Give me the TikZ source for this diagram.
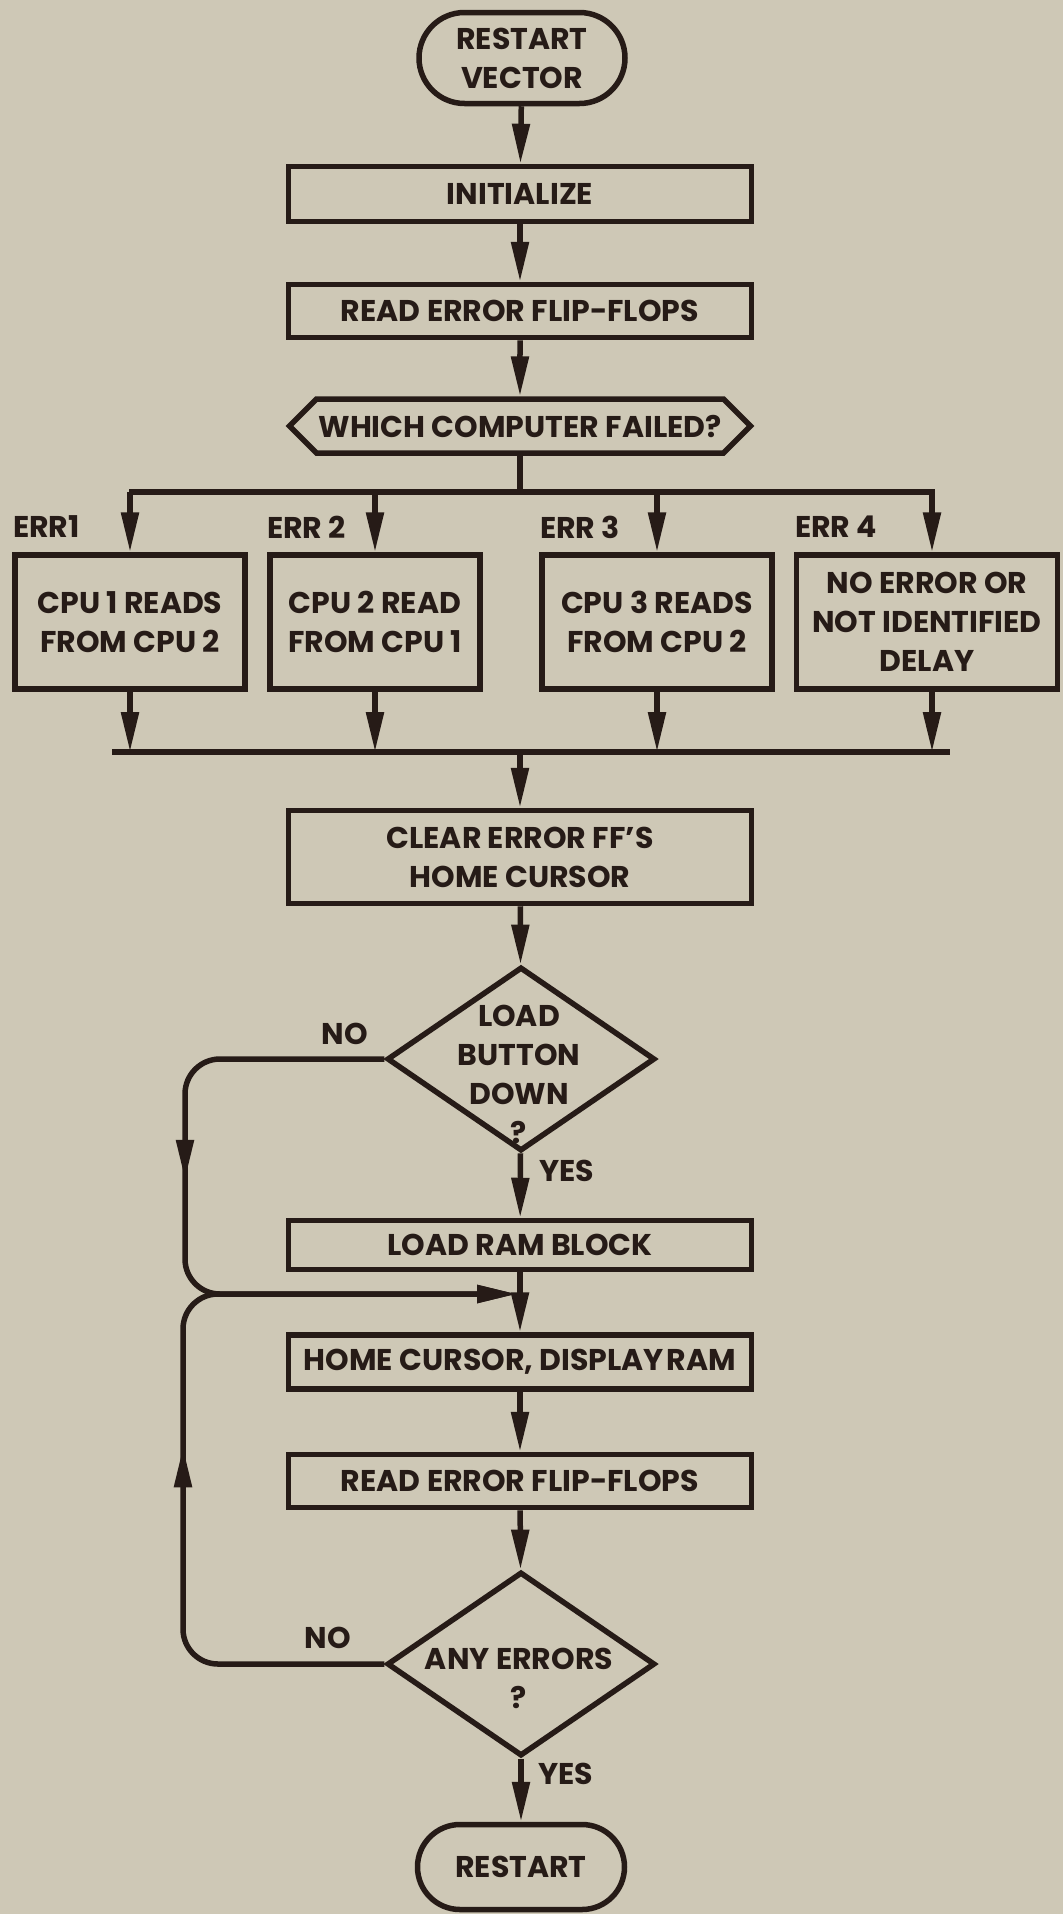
\documentclass[tikz,border=0pt]{standalone}
\usepackage{fontspec}
\setmainfont{Poppins}
\usetikzlibrary{arrows.meta,shapes.misc,shapes.geometric,shapes.symbols,decorations.markings}
\definecolor{bg}{RGB}{206,200,182}
\definecolor{ink}{RGB}{38,27,23}
\begin{document}
\begin{tikzpicture}[x=1pt,y=-1pt,
  every node/.style={font=\fontsize{30}{39}\selectfont\bfseries, text=ink},
  box/.style={draw=ink, line width=5.5pt, rectangle, minimum width=463pt, align=center, inner sep=0pt},
  term/.style={draw=ink, line width=5.5pt, rounded rectangle, align=center, inner sep=0pt},
  dia/.style={draw=ink, line width=5.5pt, diamond, minimum width=268pt, minimum height=184pt, inner sep=0pt},
  lbl/.style={inner sep=0pt, align=center},
  tipA/.tip={Triangle[length=40pt,width=17pt]},
  arr/.style={draw=ink, color=ink, line width=5.5pt, -tipA},
  ln/.style={draw=ink, color=ink, line width=5.5pt},
]
\fill[bg] (0,0) rectangle (1063,1914);
\useasboundingbox (0,0) rectangle (1063,1914);

% main column
\node[term, minimum width=206pt, minimum height=91pt] (start) at (522,58) {RESTART\\VECTOR};
\node[box, minimum height=55pt] (init) at (520,194) {INITIALIZE};
\node[box, minimum height=53pt] (rff1) at (520,311) {READ ERROR FLIP-FLOPS};
\node[draw=ink, line width=5.5pt, signal, signal to=west and east, signal pointer angle=90,
      minimum width=461pt, minimum height=54pt, inner sep=0pt] (hex) at (520,426) {WHICH COMPUTER FAILED?};

% branch boxes
\node[box, minimum width=230pt, minimum height=134pt] (b1) at (130,622) {CPU 1 READS\\FROM CPU 2};
\node[box, minimum width=210pt, minimum height=134pt] (b2) at (375,622) {CPU 2 READ\\FROM CPU 1};
\node[box, minimum width=230pt, minimum height=134pt] (b3) at (657,622) {CPU 3 READS\\FROM CPU 2};
\node[box, minimum width=261pt, minimum height=134pt] (b4) at (927,622) {NO ERROR OR\\NOT IDENTIFIED\\DELAY};

\node[lbl, anchor=west] (e1) at (13,527) {ERR1};
\node[lbl, anchor=west] (e2) at (267,527) {ERR 2};
\node[lbl, anchor=west] (e3) at (540,527) {ERR 3};
\node[lbl, anchor=west] (e4) at (795,527) {ERR 4};

\coordinate (bus1L) at (129,492);
\coordinate (bus1R) at (935,492);
\coordinate (bus1M) at (520,492);
\coordinate (t4) at (932,492);
\coordinate (bus2L) at (112,752);
\coordinate (bus2R) at (950,752);
\coordinate (bus2M) at (520,752);

\node[box, minimum height=93pt] (clr) at (520,857) {CLEAR ERROR FF'S\\HOME CURSOR};
\node[dia] (d1) at (521,1059) {};
\node[lbl] (d1t) at (519,1074) {LOAD\\BUTTON\\DOWN\\?};
\node[lbl] (no1) at (345,1034) {NO};
\node[lbl] (yes1) at (567,1171) {YES};

\node[box, minimum height=49pt] (ram) at (520,1245) {LOAD RAM BLOCK};
\coordinate (merge) at (517,1294);
\node[box, minimum height=54pt] (home) at (520,1362) {HOME CURSOR, DISPLAY\hspace{3pt}RAM};
\node[box, minimum height=53pt] (rff2) at (520,1481) {READ ERROR FLIP-FLOPS};
\node[dia] (d2) at (521,1664) {};
\node[lbl] (d2t) at (519,1678) {ANY ERRORS\\?};
\node[lbl] (no2) at (328,1638) {NO};
\node[lbl] (yes2) at (566,1774) {YES};
\node[term, minimum width=207pt, minimum height=85pt] (end) at (521,1867) {RESTART};

% connectors
\draw[arr] (start) -- (init);
\draw[arr] (init) -- (rff1);
\draw[arr] (rff1) -- (hex);
\draw[ln] (hex.south) -- (bus1M);
\draw[ln] (bus1L) -- (bus1R);
\draw[arr] (b1.north |- bus1L) -- (b1.north);
\draw[arr] (b2.north |- bus1L) -- (b2.north);
\draw[arr] (b3.north |- bus1L) -- (b3.north);
\draw[arr] (t4) -- (t4 |- b4.north);
\draw[arr] (b1.south) -- (b1.south |- bus2L);
\draw[arr] (b2.south) -- (b2.south |- bus2L);
\draw[arr] (b3.south) -- (b3.south |- bus2L);
\draw[arr] (t4 |- b4.south) -- (t4 |- bus2L);
\draw[ln] (bus2L) -- (bus2R);
\draw[arr] (bus2M) -- (clr.north);
\draw[arr] (clr) -- (d1);
\draw[arr] (d1) -- (ram);
\draw[arr] (ram) -- (home);
\draw[arr] (home) -- (rff2);
\draw[arr] (rff2) -- (d2);
\draw[arr] (d2) -- (end);

\draw[arr, rounded corners=35pt, postaction={decorate},
  decoration={markings, mark=at position 305pt with {\arrow{tipA}}}]
  (d1.west) -- (185,1059) -- (185,1294) -- (merge);
\draw[arr, rounded corners=35pt, postaction={decorate},
  decoration={markings, mark=at position 403pt with {\arrow{tipA}}}]
  (d2.west) -- (183,1664) -- (183,1294) -- (merge);
\end{tikzpicture}
\end{document}
